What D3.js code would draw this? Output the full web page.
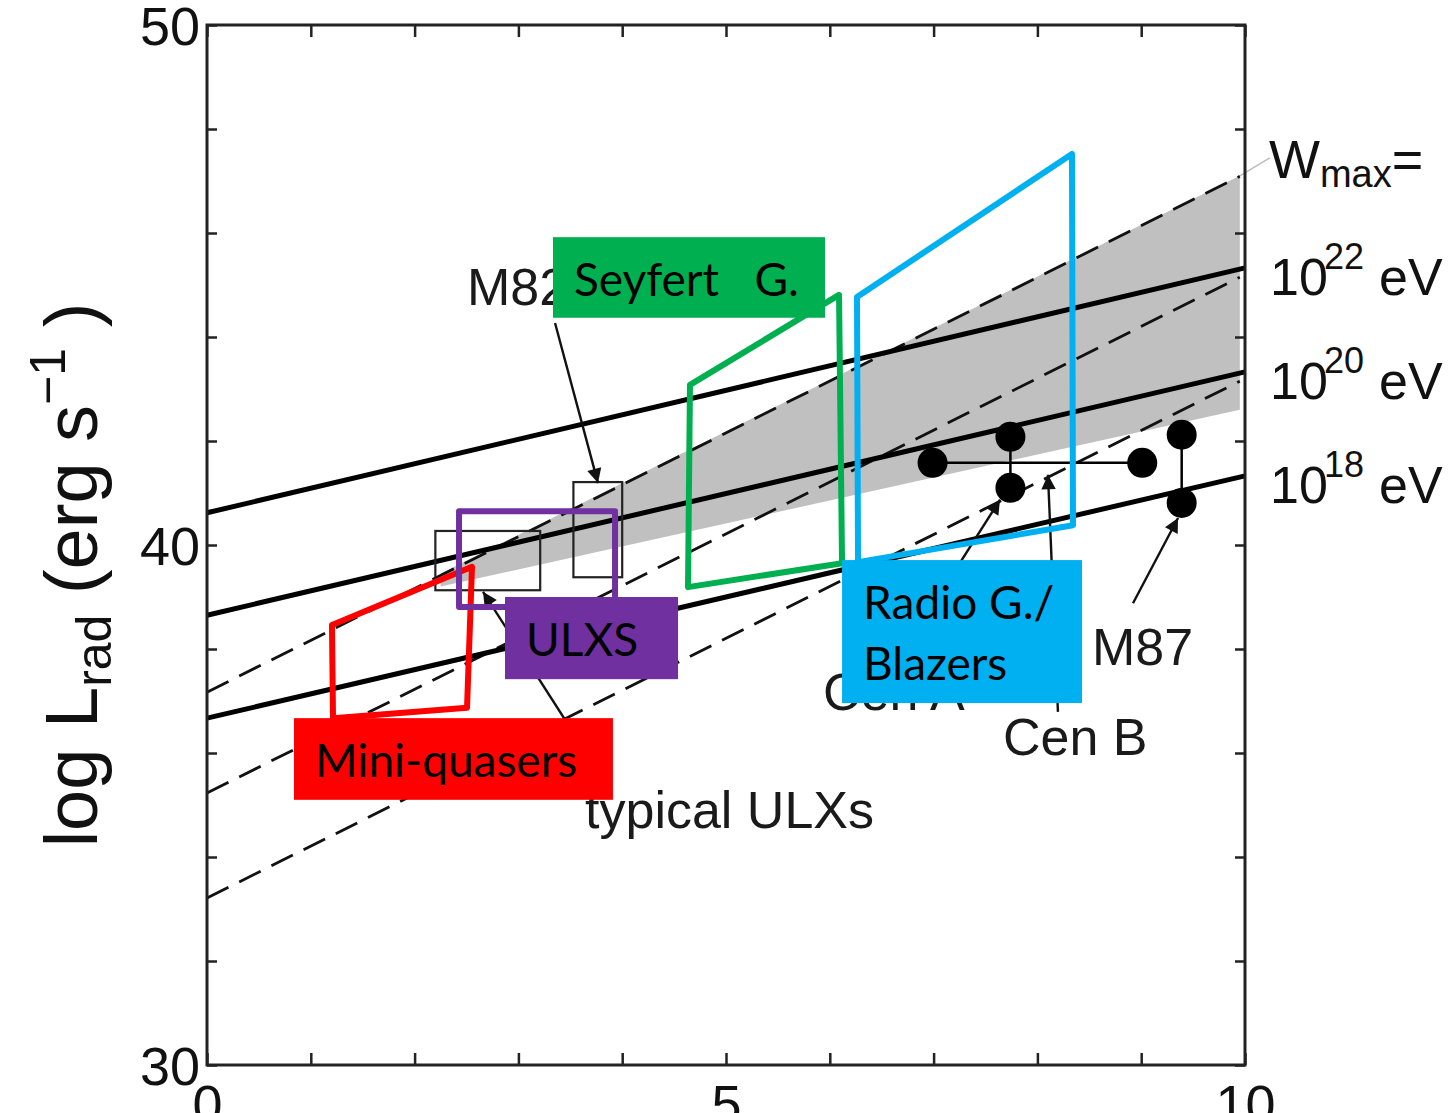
<!DOCTYPE html>
<html>
<head>
<meta charset="utf-8">
<script src="https://cdn.jsdelivr.net/npm/d3@7"></script>
<style>
  body { margin: 0; background: #fff; }
  svg { display: block; font-family: "Liberation Sans", Arial, sans-serif; }
  .tag { font-family: Lato, "Open Sans", sans-serif; }
</style>
</head>
<body>
<script>
// axes
const xDomain = [0, 10];
const yDomain = [30, 50];
const xTickValues = d3.range(0, 11, 1);
const yTickValues = d3.range(30, 51, 2);
const xLabelTicks = [0, 5, 10];
const yLabelTicks = [30, 40, 50];

// Wmax lines, log L at x = 0 and x = 10
const wmaxExponents = ["22", "20", "18"];
const solidAt0 = [40.62, 38.65, 36.67];
const solidAt10 = [45.33, 43.33, 41.33];
const dashedAt0 = [37.17, 35.23, 33.21];
const dashedAt10 = [47.14, 45.2, 43.2];

// grey band
const bandX = [2.25, 9.95];
const bandTop = [39.45, 47.1];
const bandBottom = [39.2, 42.6];

// ULX boxes of the original figure
const ulxBoxX = [[2.2, 3.21], [3.53, 4.0]];
const ulxBoxY = [[39.13, 40.27], [39.38, 41.21]];

// radio galaxies (pairs of points joined by a bar)
const sourceNames = ["Cen A", "Cen B", "M87"];
const sourceX = [[7.74, 7.74], [6.99, 9.01], [9.39, 9.39]];
const sourceY = [[41.1, 42.08], [41.58, 41.58], [40.81, 42.12]];

// black labels and their arrows
const labelText = ["M82", "typical ULXs", "Cen A", "Cen B", "M87"];
const labelX = [2.505, 3.642, 5.934, 7.669, 8.526];
const labelY = [44.62, 34.56, 36.83, 35.96, 37.69];
const arrowFrom = [[3.353, 44.27], [3.88, 35.3], [6.965, 38.75], [8.198, 36.79], [8.921, 38.88]];
const arrowTo = [[3.767, 41.19], [2.659, 39.1], [7.64, 40.87], [8.102, 41.35], [9.355, 40.52]];

// coloured regions drawn over the figure
const regionNames = ["Mini-quasers", "ULXS", "Seyfert   G.", "Radio G./|Blazers"];
const regionColors = ["#ff0000", "#7030a0", "#00b050", "#00b0f0"];
const regionX = [
  [1.204, 2.553, 2.505, 1.214],
  [2.428, 3.931, 3.931, 2.428],
  [4.653, 6.089, 6.118, 4.634],
  [6.262, 8.333, 8.343, 6.272]
];
const regionY = [
  [38.46, 39.58, 36.87, 36.67],
  [40.65, 40.65, 38.81, 38.81],
  [43.08, 44.81, 39.65, 39.19],
  [44.77, 47.52, 40.38, 39.67]
];
// tag boxes [x0, x1], [yTop, yBottom]
const tagX = [[0.838, 3.911], [2.871, 4.538], [3.333, 5.954], [6.118, 8.43]];
const tagY = [[36.67, 35.1], [39.0, 37.42], [45.92, 44.37], [39.71, 36.96]];

const width = 1455, height = 1113;
const x = d3.scaleLinear().domain(xDomain).range([207, 1245]);
const y = d3.scaleLinear().domain(yDomain).range([1065, 25]);

const svg = d3.select("body").append("svg")
    .attr("width", width)
    .attr("height", height)
    .attr("viewBox", [0, 0, width, height]);

const defs = svg.append("defs");
defs.append("marker")
    .attr("id", "head")
    .attr("viewBox", "0 0 10 10")
    .attr("refX", 10).attr("refY", 5)
    .attr("markerWidth", 7).attr("markerHeight", 6)
    .attr("markerUnits", "strokeWidth")
    .attr("orient", "auto")
  .append("path")
    .attr("d", "M0,0L10,5L0,10z")
    .attr("fill", "#111");

// grey band
svg.append("path")
    .attr("fill", "#c0c0c0")
    .attr("d", d3.line()([
      [x(bandX[0]), y(bandTop[0])], [x(bandX[1]), y(bandTop[1])],
      [x(bandX[1]), y(bandBottom[1])], [x(bandX[0]), y(bandBottom[0])]
    ]) + "Z");

// thin leader to Wmax label
svg.append("line")
    .attr("x1", x(bandX[1])).attr("y1", y(bandTop[1]))
    .attr("x2", x(bandX[1]) + 30).attr("y2", y(bandTop[1]) - 18)
    .attr("stroke", "#bbb").attr("stroke-width", 1.5);

// dashed lines
svg.append("g")
  .selectAll("line")
  .data(dashedAt0)
  .join("line")
    .attr("x1", x(0)).attr("y1", d => y(d))
    .attr("x2", x(bandX[1])).attr("y2", (d, i) => y(dashedAt0[i] + (dashedAt10[i] - dashedAt0[i]) * bandX[1] / 10))
    .attr("stroke", "#111")
    .attr("stroke-width", 2.8)
    .attr("stroke-dasharray", "24,12");

// solid lines
svg.append("g")
  .selectAll("line")
  .data(solidAt0)
  .join("line")
    .attr("x1", x(0)).attr("y1", d => y(d))
    .attr("x2", x(10)).attr("y2", (d, i) => y(solidAt10[i]))
    .attr("stroke", "#000")
    .attr("stroke-width", 5);

// ULX boxes
svg.append("g")
  .selectAll("rect")
  .data(ulxBoxX)
  .join("rect")
    .attr("x", d => x(d[0]))
    .attr("width", d => x(d[1]) - x(d[0]))
    .attr("y", (d, i) => y(ulxBoxY[i][1]))
    .attr("height", (d, i) => y(ulxBoxY[i][0]) - y(ulxBoxY[i][1]))
    .attr("fill", "none")
    .attr("stroke", "#222")
    .attr("stroke-width", 2.2);

// sources
const src = svg.append("g");
sourceNames.forEach((name, i) => {
  src.append("line")
      .attr("x1", x(sourceX[i][0])).attr("y1", y(sourceY[i][0]))
      .attr("x2", x(sourceX[i][1])).attr("y2", y(sourceY[i][1]))
      .attr("stroke", "#000").attr("stroke-width", 2.5);
  src.selectAll(null)
    .data([0, 1])
    .join("circle")
      .attr("cx", k => x(sourceX[i][k]))
      .attr("cy", k => y(sourceY[i][k]))
      .attr("r", 15)
      .attr("fill", "#000");
});

// arrows
svg.append("g")
  .selectAll("line")
  .data(arrowFrom)
  .join("line")
    .attr("x1", d => x(d[0])).attr("y1", d => y(d[1]))
    .attr("x2", (d, i) => x(arrowTo[i][0])).attr("y2", (d, i) => y(arrowTo[i][1]))
    .attr("stroke", "#111")
    .attr("stroke-width", 2.4)
    .attr("marker-end", "url(#head)");

// black labels
svg.append("g")
  .selectAll("text")
  .data(labelText)
  .join("text")
    .attr("x", (d, i) => x(labelX[i]))
    .attr("y", (d, i) => y(labelY[i]))
    .attr("font-size", 52)
    .attr("fill", "#1a1a1a")
    .text(d => d);

// axes
const axisG = svg.append("g").attr("font-size", 54);
const tickStyle = g => {
  g.select(".domain").remove();
  g.selectAll(".tick line").attr("stroke", "#222").attr("stroke-width", 2.5);
  g.selectAll("text").attr("font-size", 54).attr("fill", "#111").attr("font-family", "Liberation Sans, Arial, sans-serif");
};
axisG.append("g")
    .attr("transform", `translate(0,${y(30)})`)
    .call(d3.axisBottom(x).tickValues(xTickValues).tickSize(-12).tickPadding(20)
      .tickFormat(d => xLabelTicks.includes(d) ? d : ""))
    .call(tickStyle);
axisG.append("g")
    .attr("transform", `translate(0,${y(50)})`)
    .call(d3.axisTop(x).tickValues(xTickValues).tickSize(-12).tickFormat(""))
    .call(tickStyle);
axisG.append("g")
    .attr("transform", `translate(${x(0)},0)`)
    .call(d3.axisLeft(y).tickValues(yTickValues).tickSize(-10).tickPadding(7)
      .tickFormat(d => yLabelTicks.includes(d) ? d : ""))
    .call(tickStyle)
    .call(g => g.selectAll("text").attr("dy", "0.36em"));
axisG.append("g")
    .attr("transform", `translate(${x(10)},0)`)
    .call(d3.axisRight(y).tickValues(yTickValues).tickSize(-10).tickFormat(""))
    .call(tickStyle);

svg.append("rect")
    .attr("x", x(0)).attr("y", y(50))
    .attr("width", x(10) - x(0)).attr("height", y(30) - y(50))
    .attr("fill", "none").attr("stroke", "#222").attr("stroke-width", 3);

// y axis title
const yt = svg.append("text")
    .attr("transform", `translate(97,${(y(30) + y(50)) / 2 + 30}) rotate(-90)`)
    .attr("text-anchor", "middle")
    .attr("font-size", 74)
    .attr("fill", "#111");
yt.append("tspan").text("log L");
yt.append("tspan").attr("font-size", 50).attr("dy", 14).text("rad");
yt.append("tspan").attr("dy", -14).text(" (erg s");
yt.append("tspan").attr("font-size", 50).attr("dy", -32).text("\u22121");
yt.append("tspan").attr("dy", 32).text(" )");

// Wmax legend at the right
const rx = x(10) + 24;
const wm = svg.append("text").attr("x", rx).attr("y", 178).attr("font-size", 54).attr("fill", "#111");
wm.append("tspan").text("W");
wm.append("tspan").attr("font-size", 38).attr("dy", 9).text("max");
wm.append("tspan").attr("dy", -9).text("=");

svg.append("g")
  .selectAll("text")
  .data(wmaxExponents)
  .join("text")
    .attr("y", (d, i) => 295 + i * 104)
    .attr("font-size", 52)
    .attr("fill", "#111")
    .call(t => t.append("tspan").attr("x", rx + 1).text("10"))
    .call(t => t.append("tspan").attr("x", rx + 55).attr("font-size", 36).attr("dy", -26).text(d => d))
    .call(t => t.append("tspan").attr("x", rx + 110).attr("dy", 26).text("eV"));

// coloured regions
svg.append("g")
  .selectAll("path")
  .data(regionX)
  .join("path")
    .attr("d", (d, i) => d3.line()(d.map((v, k) => [x(v), y(regionY[i][k])])) + "Z")
    .attr("fill", "none")
    .attr("stroke", (d, i) => regionColors[i])
    .attr("stroke-width", 6)
    .attr("stroke-linejoin", "round");

// tags
const tags = svg.append("g").attr("class", "tag");
regionNames.forEach((name, i) => {
  const x0 = x(tagX[i][0]), y0 = y(tagY[i][0]);
  tags.append("rect")
      .attr("x", x0).attr("y", y0)
      .attr("width", x(tagX[i][1]) - x0)
      .attr("height", y(tagY[i][1]) - y0)
      .attr("fill", regionColors[i]);
  name.split("|").forEach((line, k) => {
    tags.append("text")
        .attr("x", x0 + 21)
        .attr("y", y0 + 59 + k * 61)
        .attr("font-size", 46)
        .attr("fill", "#000")
        .attr("xml:space", "preserve")
        .style("white-space", "pre")
        .text(line);
  });
});
</script>
</body>
</html>
